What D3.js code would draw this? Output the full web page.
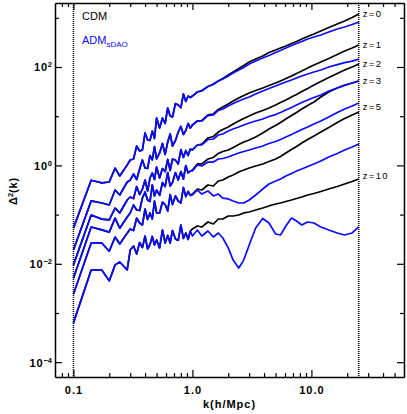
<!DOCTYPE html>
<html><head><meta charset="utf-8">
<script src="https://cdn.jsdelivr.net/npm/d3@7"></script>
<style>
body{margin:0;background:#fff;}
svg{display:block;}
text{font-family:"Liberation Sans",Arial,Helvetica,sans-serif;}
</style>
</head><body>
<svg id="c" width="407" height="414"></svg>
<script>
// ---------------- data ----------------
const kShared = [0.1,0.141,0.173,0.2,0.224,0.245,0.283,0.3,0.32,0.34,0.36,0.38,0.40,0.42,0.44,0.46,0.48,0.50,0.53,0.56,0.59,0.62,0.65,0.68,0.72,0.76,0.80,0.84,0.88,0.92,0.96];
const kHigh = [1.0,1.1,1.2,1.35,1.5,1.65,1.8,2.0,2.2,2.45,2.7,3.0,3.4,3.9,4.4,5.0,5.5,6.1,6.8,7.5,8.3,9.3,10.5,12,14,16.5,19,22,25];
const redshiftLabels = ["z=0","z=1","z=2","z=3","z=5","z=10"];

// large scales: CDM and ADM identical
const sharedZ0 = [0.053,0.50,0.44,0.46,0.88,0.61,1.02,1.29,1.35,2.48,1.96,2.06,4.56,3.28,3.21,5.00,3.52,9.19,5.75,9.19,7.11,14.7,10.1,9.63,18.1,16.9,15.0,28.3,19.9,25.7,24.0];
const sharedZ1 = [0.019,0.19,0.172,0.157,0.316,0.25,0.46,0.50,0.668,0.517,0.845,1.29,0.885,0.865,1.59,1.29,2.42,1.35,1.79,2.79,1.67,2.99,4.35,2.48,3.21,4.77,6.18,4.25,5.12,7.11,5.75];
const sharedZ2 = [0.0095,0.098,0.081,0.078,0.136,0.108,0.198,0.228,0.212,0.372,0.256,0.331,0.505,0.302,0.555,0.701,0.517,0.928,0.555,0.865,0.751,1.32,0.787,1.35,1.29,1.07,2.10,1.45,2.01,1.59,2.15];
const sharedZ3 = [0.0051,0.056,0.049,0.044,0.085,0.053,0.089,0.108,0.157,0.124,0.121,0.217,0.288,0.198,0.185,0.40,0.239,0.316,0.245,0.449,0.372,0.717,0.381,0.449,0.717,0.505,0.751,0.529,0.995,0.701,0.769];
const sharedZ5 = [0.0024,0.0265,0.0265,0.018,0.035,0.0253,0.042,0.051,0.0475,0.0853,0.0675,0.0615,0.130,0.0795,0.108,0.0814,0.189,0.108,0.108,0.180,0.160,0.118,0.256,0.160,0.239,0.189,0.172,0.356,0.233,0.295,0.245];
const sharedZ10 = [0.00063,0.0075,0.0075,0.0045,0.0095,0.0109,0.0075,0.019,0.0230,0.0158,0.0271,0.0214,0.0367,0.0200,0.0247,0.0359,0.0241,0.0305,0.0210,0.0486,0.0265,0.0376,0.0265,0.0475,0.0319,0.0298,0.0615,0.0327,0.0423,0.0312,0.0464];

// small scales: CDM
const cdmZ0 = [25.7,31.0,33.3,40.2,45.1,51.9,58.4,68.7,79.1,93.2,107,126,145,167,197,222,243,267,301,330,371,417,469,539,635,748,861,1014,1195];
const cdmZ1 = [6.62,7.99,8.18,10.6,11.1,13.7,15.4,17.7,20.4,23.4,26.4,29.6,33.3,37.4,42.1,47.3,51.9,58.4,65.6,73.8,83.0,95.5,110,126,149,180,211,243,280];
const cdmZ2 = [2.06,2.60,2.72,3.61,3.87,4.77,5.37,6.03,6.94,7.99,8.98,10.1,11.6,13.1,14.7,16.9,19.0,21.3,24.5,27.6,31.8,36.6,43.1,50.7,61.2,73.8,86.9,100,115];
const cdmZ3 = [0.807,1.07,1.07,1.35,1.45,1.75,1.92,2.06,2.31,2.66,2.99,3.28,3.78,4.56,5.50,6.47,7.45,8.77,10.3,11.9,14.0,16.5,19.4,24.5,31.0,37.4,43.1,47.3,51.9];
const cdmZ5 = [0.262,0.331,0.316,0.40,0.381,0.482,0.505,0.581,0.638,0.734,0.807,0.885,0.972,1.07,1.20,1.35,1.52,1.79,2.10,2.42,2.85,3.36,3.96,4.77,5.89,7.45,8.98,10.6,12.2];
const cdmZ10 = [0.0510,0.0586,0.056,0.0707,0.0644,0.0814,0.0814,0.0937,0.0937,0.098,0.108,0.113,0.124,0.136,0.150,0.164,0.172,0.185,0.198,0.212,0.228,0.250,0.269,0.295,0.331,0.372,0.419,0.471,0.529];

// small scales: ADM (sDAO)
const admZ0 = [25.7,31.0,32.5,40.2,44.1,51.9,57.0,65.6,75.5,86.9,97.7,115,132,152,171,197,216,243,274,301,330,371,407,447,514,592,650,731,822];
const admZ1 = [6.62,7.99,7.99,10.3,10.6,13.1,14.0,16.1,18.1,20.4,22.4,24.5,28.3,32.5,36.6,41.1,45.1,49.6,54.4,59.8,65.6,72.1,79.1,86.9,100,112,123,132,145];
const admZ2 = [2.06,2.60,2.60,3.36,3.44,4.15,4.35,5.00,5.50,6.03,6.62,7.28,7.99,8.77,9.86,10.8,11.9,13.4,15.0,16.9,19.0,21.3,24.0,27.0,32.5,37.4,42.1,47.3,51.9];
const admZ3 = [0.769,1.02,0.972,1.17,1.17,1.35,1.38,1.48,1.63,1.79,1.92,2.06,2.26,2.48,2.79,3.06,3.36,3.78,4.25,4.77,5.37,6.03,6.94,7.99,9.63,11.9,14.0,16.1,18.5];
const admZ5 = [0.250,0.316,0.262,0.302,0.239,0.262,0.217,0.208,0.189,0.172,0.172,0.198,0.250,0.331,0.419,0.482,0.529,0.609,0.685,0.769,0.845,0.95,1.07,1.23,1.48,1.75,2.06,2.37,2.72];
const admZ10 = [0.0367,0.0486,0.0367,0.0464,0.0351,0.0423,0.0334,0.0210,0.0119,0.0082,0.0119,0.0241,0.0534,0.0833,0.0675,0.0403,0.0385,0.0587,0.0853,0.0741,0.0615,0.0707,0.0675,0.056,0.0486,0.0423,0.0385,0.0423,0.056];

const xTicks = [0.1,1,10];
const xTickLabels = ["0.1","1.0","10.0"];
const xMinor = [0.08,0.09,0.2,0.3,0.4,0.5,0.6,0.7,0.8,0.9,2,3,4,5,6,7,8,9,20,30,40,50];
const yTicks = [1e2,1e0,1e-2,1e-4];
const yTickExp = ["2","0","\u22122","\u22124"];
const yMinor = [1e3,1e1,1e-1,1e-3];
const kLimits = [0.1,25];

// ---------------- chart ----------------
const svg = d3.select("#c");
const L=55,R=404,T=3,B=377;
const x = d3.scaleLog().domain([0.07,60]).range([L,R]);
const y = d3.scaleLog().domain([5e-5,2000]).range([B,T]);

const sharedAll=[sharedZ0,sharedZ1,sharedZ2,sharedZ3,sharedZ5,sharedZ10];
const cdmAll=[cdmZ0,cdmZ1,cdmZ2,cdmZ3,cdmZ5,cdmZ10];
const admAll=[admZ0,admZ1,admZ2,admZ3,admZ5,admZ10];
const pts=(ks,vs)=>ks.map((k,i)=>[k,vs[i]]);
const series = redshiftLabels.map((lab,i)=>({
  label:lab,
  cdm: pts(kShared,sharedAll[i]).concat(pts(kHigh,cdmAll[i])),
  adm: pts(kShared,sharedAll[i]).concat(pts(kHigh,admAll[i]))
}));
const line = d3.line().x(d=>x(d[0])).y(d=>y(d[1]));

svg.append("g").selectAll("path").data(series).join("path")
  .attr("d",d=>line(d.cdm)).attr("fill","none").attr("stroke","#000")
  .attr("stroke-width",1.7).attr("stroke-linejoin","round");
svg.append("g").selectAll("path").data(series).join("path")
  .attr("d",d=>line(d.adm)).attr("fill","none").attr("stroke","#0a0aff")
  .attr("stroke-width",1.7).attr("stroke-linejoin","round");

// dotted limits
svg.append("g").selectAll("line").data(kLimits).join("line")
  .attr("x1",d=>x(d)).attr("x2",d=>x(d)).attr("y1",T).attr("y2",B)
  .attr("stroke","#000").attr("stroke-width",1.5).attr("stroke-dasharray","1,1");

// z labels at CDM end points
const labOff=[0,0,0,0,-5,-3];
svg.append("g").selectAll("text").data(series).join("text")
  .attr("x",x(25)+4).attr("y",(d,i)=>y(d.cdm[d.cdm.length-1][1])+labOff[i])
  .attr("dy","0.35em").attr("font-size",9.5).attr("letter-spacing",1.3)
  .attr("fill","#000").text(d=>d.label);

// axes
function styleAxis(g){
  g.select(".domain").attr("stroke","#000").attr("stroke-width",1.5);
  g.selectAll(".tick line").attr("stroke","#000").attr("stroke-width",1.2);
}
const gx = svg.append("g").attr("transform",`translate(0,${B})`)
  .call(d3.axisBottom(x).tickValues(xTicks).tickSize(-7).tickSizeOuter(0).tickPadding(9)
    .tickFormat((d,i)=>xTickLabels[i]));
styleAxis(gx);
gx.selectAll("text").attr("font-size",11).attr("font-weight","bold").attr("letter-spacing",1)
  .attr("font-family","Liberation Sans, Arial, sans-serif").attr("fill","#000");
svg.append("g").attr("transform",`translate(0,${B})`)
  .call(d3.axisBottom(x).tickValues(xMinor).tickSize(-4).tickFormat(""))
  .call(g=>{g.select(".domain").remove(); g.selectAll("line").attr("stroke","#000").attr("stroke-width",1.2);});
const gt = svg.append("g").attr("transform",`translate(0,${T})`)
  .call(d3.axisTop(x).tickValues(xTicks).tickSize(-7).tickSizeOuter(0).tickFormat(""));
styleAxis(gt);
svg.append("g").attr("transform",`translate(0,${T})`)
  .call(d3.axisTop(x).tickValues(xMinor).tickSize(-4).tickFormat(""))
  .call(g=>{g.select(".domain").remove(); g.selectAll("line").attr("stroke","#000").attr("stroke-width",1.2);});

const gy = svg.append("g").attr("transform",`translate(${L},0)`)
  .call(d3.axisLeft(y).tickValues(yTicks).tickSize(-7).tickSizeOuter(0).tickPadding(3).tickFormat(""));
styleAxis(gy);
gy.selectAll(".tick text").each(function(d,i){
  const t=d3.select(this);
  t.attr("font-size",11).attr("font-weight","bold").attr("fill","#000")
   .attr("font-family","Liberation Sans, Arial, sans-serif").attr("dy","0.36em");
  t.append("tspan").text("10").attr("letter-spacing",0.8);
  t.append("tspan").text(yTickExp[i]).attr("font-size",7.5).attr("dy","-0.55em");
});
svg.append("g").attr("transform",`translate(${L},0)`)
  .call(d3.axisLeft(y).tickValues(yMinor).tickSize(-4).tickFormat(""))
  .call(g=>{g.select(".domain").remove(); g.selectAll("line").attr("stroke","#000").attr("stroke-width",1.2);});
const gr = svg.append("g").attr("transform",`translate(${R},0)`)
  .call(d3.axisRight(y).tickValues(yTicks).tickSize(-7).tickSizeOuter(0).tickFormat(""));
styleAxis(gr);
svg.append("g").attr("transform",`translate(${R},0)`)
  .call(d3.axisRight(y).tickValues(yMinor).tickSize(-4).tickFormat(""))
  .call(g=>{g.select(".domain").remove(); g.selectAll("line").attr("stroke","#000").attr("stroke-width",1.2);});

// axis titles
svg.append("text").attr("x",(L+R)/2).attr("y",408).attr("text-anchor","middle")
  .attr("font-size",11).attr("font-weight","bold").attr("letter-spacing",1).text("k(h/Mpc)");
const yt = svg.append("text").attr("transform","translate(17,191) rotate(-90)")
  .attr("text-anchor","middle").attr("font-size",11).attr("font-weight","bold");
yt.append("tspan").text("\u0394");
yt.append("tspan").text("2").attr("font-size",7.5).attr("dy","-0.5em");
yt.append("tspan").text("(k)").attr("dy","0.35em").attr("letter-spacing",0.8);

// legend
svg.append("text").attr("x",82).attr("y",19.5).attr("font-size",11).attr("fill","#000").text("CDM");
const lg = svg.append("text").attr("x",82).attr("y",43.5).attr("font-size",11).attr("fill","#0a0aff");
lg.append("tspan").text("ADM");
lg.append("tspan").text("sDAO").attr("font-size",8).attr("dy","3");
</script>
</body></html>
